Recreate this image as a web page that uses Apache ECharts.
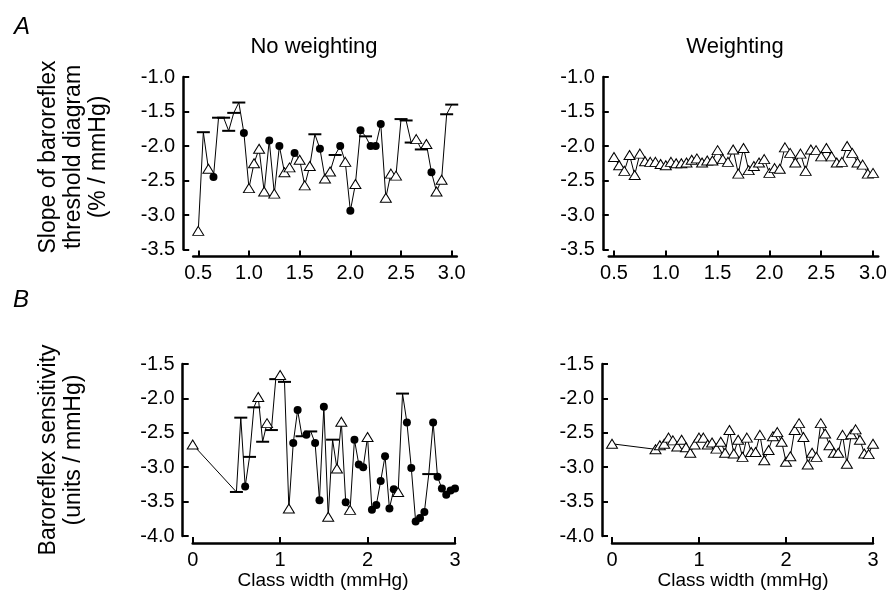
<!DOCTYPE html>
<html>
<head>
<meta charset="utf-8">
<script src="https://cdn.jsdelivr.net/npm/echarts@6/dist/echarts.min.js"></script>
<style>
html,body{margin:0;padding:0;background:#fff;}
#c{width:891px;height:597px;}
</style>
</head>
<body>
<div id="c"></div>
<script>
// ---- data ----
const xA = [0.50,0.55,0.60,0.65,0.70,0.75,0.80,0.85,0.90,0.95,1.00,1.05,1.10,1.15,1.20,1.25,1.30,1.35,1.40,1.45,1.50,1.55,1.60,1.65,1.70,1.75,1.80,1.85,1.90,1.95,2.00,2.05,2.10,2.15,2.20,2.25,2.30,2.35,2.40,2.45,2.50,2.55,2.60,2.65,2.70,2.75,2.80,2.85,2.90,2.95,3.00];
const xB = [0].concat(xA);

// symbol codes: t = open triangle, c = filled circle, b = horizontal bar
const aNoWeightY = [-3.23,-1.80,-2.33,-2.45,-1.59,-1.59,-1.78,-1.52,-1.37,-1.81,-2.61,-2.25,-2.04,-2.66,-1.92,-2.69,-2.00,-2.38,-2.31,-2.10,-2.20,-2.57,-2.29,-1.83,-2.04,-2.47,-2.37,-2.13,-2.00,-2.23,-2.94,-2.55,-1.77,-1.86,-2.00,-2.00,-1.68,-2.75,-2.40,-2.43,-1.61,-1.63,-1.95,-1.90,-2.05,-1.97,-2.38,-2.66,-2.49,-1.54,-1.40];
const aNoWeightSym = ['t','b','t','c','b','b','b','b','b','c','t','t','t','t','c','t','c','t','t','c','t','t','t','b','c','t','t','b','c','t','c','t','c','b','c','c','c','t','t','t','b','b','b','t','b','t','c','t','t','b','b'];
const aWeightY = [-2.16,-2.28,-2.36,-2.13,-2.42,-2.11,-2.22,-2.23,-2.23,-2.26,-2.28,-2.23,-2.25,-2.25,-2.24,-2.20,-2.18,-2.24,-2.21,-2.21,-2.06,-2.19,-2.23,-2.05,-2.40,-2.03,-2.35,-2.29,-2.24,-2.19,-2.39,-2.32,-2.33,-2.02,-2.10,-2.24,-2.11,-2.36,-2.05,-2.06,-2.15,-2.03,-2.15,-2.24,-2.23,-2.00,-2.10,-2.24,-2.27,-2.40,-2.39];

const bNoWeightY = [-2.67,-3.36,-2.28,-3.28,-2.85,-2.13,-1.98,-2.63,-2.36,-2.46,-1.72,-1.66,-1.76,-3.60,-2.65,-2.17,-2.55,-2.53,-2.48,-2.65,-3.48,-2.12,-3.72,-2.60,-3.02,-2.34,-3.51,-3.62,-2.60,-2.96,-3.00,-2.56,-3.62,-3.55,-3.20,-2.84,-3.60,-3.32,-3.36,-1.93,-2.35,-3.01,-3.79,-3.74,-3.65,-3.10,-2.35,-3.14,-3.31,-3.40,-3.34,-3.31];
const bNoWeightSym = ['t','b','b','c','b','b','t','b','t','b','b','t','b','t','c','c','b','c','b','c','c','c','t','b','t','t','c','t','c','c','c','t','c','c','c','c','c','c','t','b','c','c','c','c','c','b','c','c','c','c','c','c'];
const bWeightY = [-2.66,-2.74,-2.68,-2.66,-2.57,-2.61,-2.70,-2.60,-2.71,-2.79,-2.67,-2.57,-2.57,-2.67,-2.64,-2.73,-2.63,-2.79,-2.46,-2.80,-2.60,-2.85,-2.57,-2.78,-2.78,-2.53,-2.90,-2.75,-2.55,-2.49,-2.63,-2.92,-2.84,-2.46,-2.36,-2.56,-2.96,-2.79,-2.85,-2.36,-2.51,-2.68,-2.79,-2.79,-2.53,-2.95,-2.52,-2.45,-2.60,-2.80,-2.81,-2.66];

const ticksA = [0.5,1.0,1.5,2.0,2.5,3.0];
const ticksB = [0,1,2,3];
const yTicksA = [-1.0,-1.5,-2.0,-2.5,-3.0,-3.5];
const yTicksB = [-1.5,-2.0,-2.5,-3.0,-3.5,-4.0];

// ---- helpers ----
const FONT = 'Liberation Sans, Arial, sans-serif';
const barPath = 'path://M0,0 L10,0 L10,1 L0,1 Z';
function styleFor(code){
  if(code==='c') return {symbol:'circle', symbolSize:8, itemStyle:{color:'#000',borderColor:'#000',borderWidth:0}};
  if(code==='b') return {symbol:barPath, symbolSize:[13,2], symbolKeepAspect:false, itemStyle:{color:'#000',borderWidth:0}};
  return {symbol:'triangle', symbolSize:[11,9], itemStyle:{color:'#fff',borderColor:'#000',borderWidth:1}};
}
function makeData(xs, ys, syms){
  return xs.map((x,i)=>Object.assign({value:[x,ys[i]]}, styleFor(syms ? syms[i] : 't')));
}
const grids = [
  {left:193.2, top:77, width:263.6, height:172.5},
  {left:608.8, top:77, width:269.4, height:172.5},
  {left:192.7, top:364, width:262.3, height:172},
  {left:612, top:364, width:261, height:172}
];
function xAxisDef(gi, min, max, ticks, dec){
  return {
    type:'value', gridIndex:gi, min:min, max:max, position:'bottom', offset:7,
    axisLine:{show:true, onZero:false, lineStyle:{color:'#000', width:2.5}},
    axisTick:{show:true, inside:true, length:6, lineStyle:{color:'#000', width:2}, customValues:ticks},
    axisLabel:{show:true, color:'#000', fontSize:20, fontFamily:FONT, margin:7, customValues:ticks,
      formatter:v=>dec ? Number(v).toFixed(1) : String(Math.round(v))},
    splitLine:{show:false}
  };
}
function yAxisDef(gi, min, max, ticks, off){
  return {
    type:'value', gridIndex:gi, min:min, max:max, position:'left', offset:off,
    axisLine:{show:true, onZero:false, lineStyle:{color:'#000', width:2.5}},
    axisTick:{show:true, inside:true, length:6, lineStyle:{color:'#000', width:2}, customValues:ticks},
    axisLabel:{show:true, color:'#000', fontSize:20, fontFamily:FONT, margin:8, customValues:ticks,
      formatter:v=>Number(v).toFixed(1)},
    splitLine:{show:false}
  };
}
function lineSeries(gi, data){
  return {type:'line', xAxisIndex:gi, yAxisIndex:gi, data:data, clip:false, animation:false,
    lineStyle:{color:'#000', width:1}, showAllSymbol:true, z:2};
}
function txt(x, y, text, size, opts){
  return Object.assign({type:'text', x:x, y:y, silent:true,
    style:Object.assign({text:text, fill:'#000', font:(opts&&opts.italic?'italic ':'')+size+'px '+FONT,
      textAlign:'center', textVerticalAlign:'middle'}, opts&&opts.style||{})}, opts&&opts.rot?{rotation:Math.PI/2}:{});
}

const chart = echarts.init(document.getElementById('c'), null, {renderer:'canvas'});
chart.setOption({
  animation:false,
  backgroundColor:'#fff',
  grid: grids,
  xAxis: [
    xAxisDef(0, 0.45, 3.05, ticksA, true),
    xAxisDef(1, 0.45, 3.05, ticksA, true),
    xAxisDef(2, 0, 3, ticksB, false),
    xAxisDef(3, 0, 3, ticksB, false)
  ],
  yAxis: [
    yAxisDef(0, -3.5, -1.0, yTicksA, 10),
    yAxisDef(1, -3.5, -1.0, yTicksA, 6),
    yAxisDef(2, -4.0, -1.5, yTicksB, 10),
    yAxisDef(3, -4.0, -1.5, yTicksB, 10)
  ],
  series: [
    lineSeries(0, makeData(xA, aNoWeightY, aNoWeightSym)),
    lineSeries(1, makeData(xA, aWeightY, null)),
    lineSeries(2, makeData(xB, bNoWeightY, bNoWeightSym)),
    lineSeries(3, makeData(xB, bWeightY, null))
  ],
  graphic: [
    txt(22, 27, 'A', 24, {italic:true}),
    txt(21, 300, 'B', 24, {italic:true}),
    txt(314, 47, 'No weighting', 22),
    txt(735, 47, 'Weighting', 22),
    txt(49, 157, 'Slope of baroreflex', 23, {rot:true}),
    txt(74, 157, 'threshold diagram', 23, {rot:true}),
    txt(99, 157, '(% / mmHg)', 23, {rot:true}),
    txt(49, 450, 'Baroreflex sensitivity', 23, {rot:true}),
    txt(74, 450, '(units / mmHg)', 23, {rot:true}),
    txt(323, 581, 'Class width (mmHg)', 19),
    txt(743, 581, 'Class width (mmHg)', 19)
  ]
});
</script>
</body>
</html>
